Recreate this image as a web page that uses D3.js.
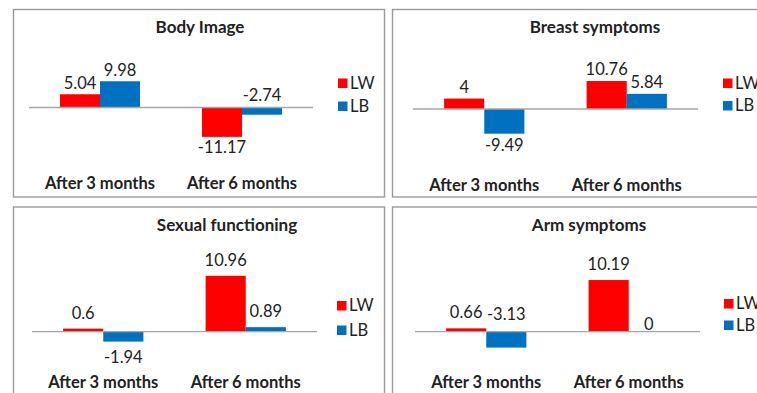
<!DOCTYPE html>
<html><head><meta charset="utf-8">
<script src="https://cdn.jsdelivr.net/npm/d3@7"></script>
<style>html,body{margin:0;padding:0;background:#fff;} svg{display:block;font-family:Lato,'Open Sans',sans-serif;}</style>
</head><body><svg id="c" width="757" height="393"></svg>
<script>
// ---- data ----
const categories = ["After 3 months", "After 6 months"];
const seriesNames = ["LW", "LB"];
const panelTitles = ["Body Image", "Breast symptoms", "Sexual functioning", "Arm symptoms"];
const bodyImageLW = [5.04, -11.17];
const bodyImageLB = [9.98, -2.74];
const breastLW = [4, 10.76];
const breastLB = [-9.49, 5.84];
const sexualLW = [0.6, 10.96];
const sexualLB = [-1.94, 0.89];
const armLW = [0.66, 10.19];
const armLB = [-3.13, 0];
const axisMin = [-15, -15, -4, -4];
const axisMax = [15, 15, 12, 12];

const panelValues = [
  [bodyImageLW, bodyImageLB],
  [breastLW, breastLB],
  [sexualLW, sexualLB],
  [armLW, armLB]
];

// ---- layout (not data) ----
const layout = [
  {frame:[13.5, 9.5, 371, 187.5], px:[29,313], zero:107.5, ppu:2.63, tx:200, ty:33, cy:189, lx:338, ly:[83,106], gap:5},
  {frame:[392.5, 9.5, 420, 187.5], px:[413,698], zero:109, ppu:2.6, tx:595, ty:33, cy:190.5, lx:723, ly:[83,105.5], gap:6},
  {frame:[13.5, 207, 371, 220], px:[32,317], zero:331.7, ppu:5.1, tx:227, ty:231, cy:388, lx:337, ly:[305.5,330], gap:10},
  {frame:[392.5, 207, 420, 220], px:[415,700], zero:331.7, ppu:5.07, tx:589, ty:231, cy:388, lx:724, ly:[303.5,325], gap:10}
];
const labelMode = {"0-1-1":"above", "3-1-0":"above", "3-1-1":"onaxis"};
const colors = d3.scaleOrdinal().domain(seriesNames).range(["#FF0000", "#0070C0"]);
const textColor = "#222";

const svg = d3.select("#c");
svg.append("rect").attr("width",757).attr("height",393).attr("fill","#fff");

panelValues.forEach((vals, p) => {
  const L = layout[p];
  const g = svg.append("g");
  g.append("rect").attr("x",L.frame[0]).attr("y",L.frame[1]).attr("width",L.frame[2]).attr("height",L.frame[3])
    .attr("fill","#fff").attr("stroke","#9a9a9a").attr("stroke-width",1.4);

  const x0 = d3.scaleBand().domain(categories).range(L.px).padding(0);
  const x1 = d3.scaleBand().domain(seriesNames).range([0, x0.bandwidth()]).paddingInner(0).paddingOuter(0.775);
  const y = d3.scaleLinear().domain([axisMin[p], axisMax[p]])
    .range([L.zero - axisMin[p]*L.ppu, L.zero - axisMax[p]*L.ppu]);

  const rows = [];
  seriesNames.forEach((s, si) => categories.forEach((c, ci) => rows.push({s, si, c, ci, v: vals[si][ci]})));

  g.selectAll("rect.bar").data(rows).enter().append("rect").attr("class","bar")
    .attr("x", d => x0(d.c) + x1(d.s))
    .attr("width", x1.bandwidth())
    .attr("y", d => Math.min(y(d.v), y(0)))
    .attr("height", d => Math.abs(y(d.v) - y(0)))
    .attr("fill", d => colors(d.s));

  // zero line
  g.append("line").attr("x1",L.px[0]).attr("x2",L.px[1]).attr("y1",y(0)).attr("y2",y(0))
    .attr("stroke","#a6a6a6").attr("stroke-width",1.3);

  // value labels
  g.selectAll("text.val").data(rows).enter().append("text").attr("class","val")
    .attr("x", d => x0(d.c) + x1(d.s) + x1.bandwidth()/2)
    .attr("y", d => {
      const m = labelMode[p+"-"+d.si+"-"+d.ci] || "out";
      if (m === "above") return y(0) - L.gap - 2;
      if (m === "onaxis") return y(0) - 2;
      return d.v >= 0 ? y(d.v) - L.gap : y(d.v) + L.gap + 11.5;
    })
    .attr("text-anchor","middle").attr("font-size",16.5).attr("fill",textColor)
    .text(d => String(d.v));

  // title
  g.append("text").attr("x",L.tx).attr("y",L.ty).attr("text-anchor","middle")
    .attr("font-size",17).attr("font-weight","bold").attr("fill",textColor).text(panelTitles[p]);

  // category axis labels
  g.selectAll("text.cat").data(categories).enter().append("text").attr("class","cat")
    .attr("x", c => x0(c) + x0.bandwidth()/2).attr("y", L.cy)
    .attr("text-anchor","middle").attr("font-size",16.5).attr("font-weight","bold").attr("fill",textColor)
    .text(c => c);

  // legend
  const lg = g.selectAll("g.leg").data(seriesNames).enter().append("g").attr("class","leg");
  lg.append("rect").attr("x",L.lx).attr("y",(s,i)=>L.ly[i]-4.5).attr("width",9.5).attr("height",9.5)
    .attr("fill", s => colors(s));
  lg.append("text").attr("x",L.lx+12).attr("y",(s,i)=>L.ly[i]+5.5).attr("font-size",16.5).attr("fill",textColor)
    .text(s => s);
});
</script></body></html>
